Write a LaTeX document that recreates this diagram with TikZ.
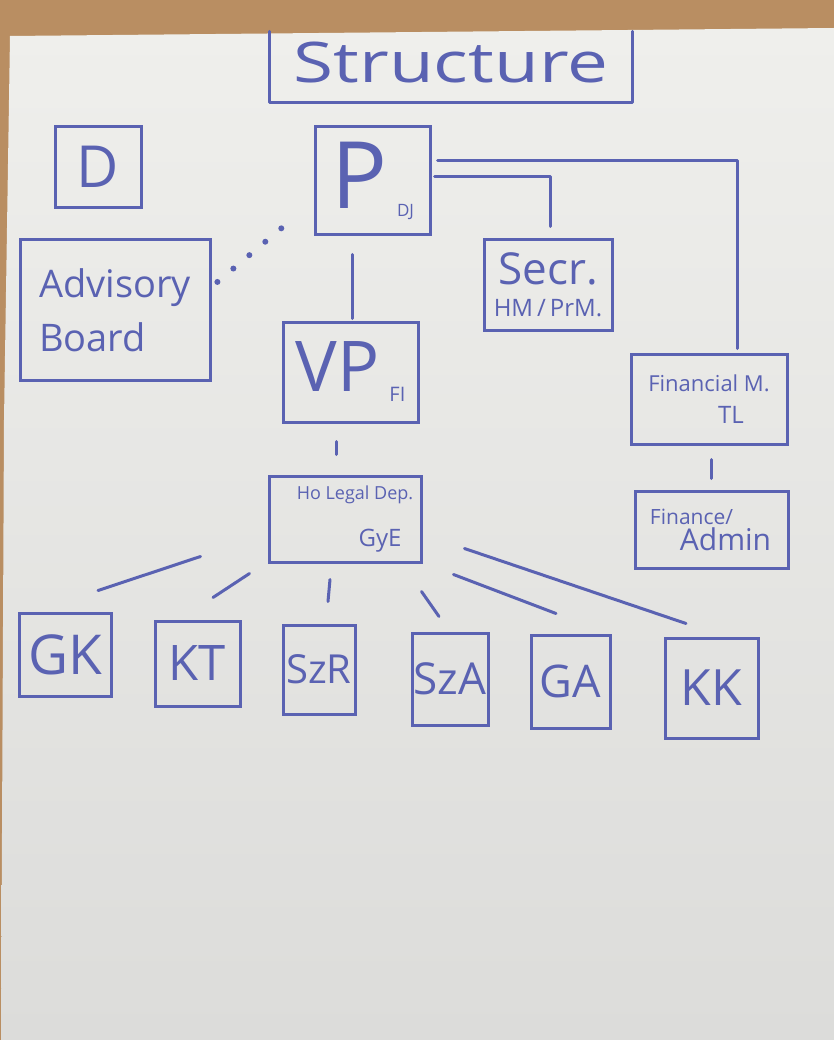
\documentclass[tikz,border=0pt]{standalone}
\usepackage{fontspec}
\setmainfont{Open Sans}
\usepackage{graphicx}
\definecolor{ink}{HTML}{5A62B2}
\definecolor{wood}{HTML}{B98E62}
\definecolor{papertop}{HTML}{EFEFEC}
\definecolor{paperbot}{HTML}{DCDCDA}
\newcommand\fsz[1]{\fontsize{#1}{#1}\selectfont}
\begin{document}
\begin{tikzpicture}[x=1pt,y=-1pt,
  box/.style={draw=ink, line width=3pt, text=ink, inner sep=0pt, align=center},
  conn/.style={draw=ink, line width=3pt, line cap=round, line join=round},
  dotline/.style={draw=ink, line width=6pt, line cap=round, dash pattern=on 0pt off 20.85pt}]
\useasboundingbox (0,0) rectangle (834,1040);
\fill[wood] (0,0) rectangle (834,1040);
\shade[top color=papertop, bottom color=paperbot] (10,36) -- (834,28) -- (834,1040) -- (1,1040) -- (4,420) -- cycle;

% title
\node[text=ink, minimum width=362pt, minimum height=71pt, inner sep=0pt] (T) at (451,67) {\raisebox{9pt}{\fsz{56}\scalebox{1.3}[1]{Structure}}};
\draw[conn] (T.north west) -- (T.south west) -- (T.south east) -- (T.north east);

% boxes
\node[box, minimum width=86pt, minimum height=81pt] (D) at (98,167) {\fsz{58}D};
\node[box, minimum width=115pt, minimum height=108pt] (P) at (372.5,181) {\fsz{93}P\hspace{10pt}\raisebox{-8pt}{\fsz{17}DJ}};
\node[box, align=left, minimum width=190pt, minimum height=140pt] (Adv) at (115,310) {\fsz{38}Advisory\\[15pt]\fsz{38}Board};
\node[box, minimum width=128pt, minimum height=90pt] (Secr) at (548,285) {\fsz{44}Secr.\\[13pt]\fsz{24}HM\,/\,PrM.};
\node[box, minimum width=135pt, minimum height=100pt] (VP) at (350.5,372) {\fsz{70}VP\hspace{10pt}\raisebox{-10pt}{\fsz{20}FI}};
\node[box, minimum width=156pt, minimum height=90pt] (FM) at (709,399) {\fsz{22}Financial M.\\[13pt]\fsz{24}\hspace*{44pt}TL};
\node[box, minimum width=152pt, minimum height=86pt] (HoL) at (345,519) {\fsz{18}\hspace*{20pt}Ho Legal Dep.\\[24pt]\fsz{24}\hspace*{70pt}GyE};
\node[box, minimum width=153pt, minimum height=77pt] (Fin) at (711.5,529.5) {\fsz{21}Finance/\hspace*{40pt}\\[2pt]\fsz{30}\hspace*{28pt}Admin};

\node[box, minimum width=92pt, minimum height=83pt] (GK) at (65,654.5) {\fsz{55}GK};
\node[box, minimum width=85pt, minimum height=85pt] (KT) at (197.5,663.5) {\fsz{49}KT};
\node[box, minimum width=72pt, minimum height=89pt] (SzR) at (319,669.5) {\fsz{40}SzR};
\node[box, minimum width=76pt, minimum height=92pt] (SzA) at (450,679) {\fsz{44}SzA};
\node[box, minimum width=79pt, minimum height=93pt] (GA) at (570.5,681.5) {\fsz{45}GA};
\node[box, minimum width=93pt, minimum height=100pt] (KK) at (711.5,688) {\fsz{50}KK};

% connectors
\draw[dotline, shorten <=7.7pt, shorten >=23.2pt] ([yshift=23.1pt]Adv.east) -- ([yshift=-20.3pt]P.west);
\draw[conn, shorten <=18pt, shorten >=2pt] ([xshift=-20pt]P.south) -- ([xshift=2pt]VP.north);
\draw[conn, shorten <=3pt, shorten >=12pt] ([yshift=4pt]P.east) -| ([xshift=2pt]Secr.north);
\draw[conn, shorten <=6pt, shorten >=4pt] ([yshift=20pt]P.east) -| ([xshift=28pt]FM.north);
\draw[conn, shorten <=14pt, shorten >=11pt] ([xshift=2pt]FM.south) -- ([xshift=-0.5pt]Fin.north);
\draw[conn, shorten <=18pt, shorten >=20pt] ([xshift=-14.5pt]VP.south) -- ([xshift=-9pt]HoL.north);

\draw[conn] ([xshift=-67pt,yshift=7pt]HoL.south west) -- ([xshift=33pt,yshift=21pt]GK.north);
\draw[conn] ([xshift=-18pt,yshift=-10pt]HoL.south west) -- ([xshift=15.5pt,yshift=22pt]KT.north);
\draw[conn] ([xshift=-15pt,yshift=-16pt]HoL.south) -- ([xshift=9pt,yshift=22pt]SzR.north);
\draw[conn] ([xshift=-1pt,yshift=-28pt]HoL.south east) -- ([xshift=-11pt,yshift=15pt]SzA.north);
\draw[conn] ([xshift=31pt,yshift=-11pt]HoL.south east) -- ([xshift=-14.5pt,yshift=20pt]GA.north);
\draw[conn] ([xshift=42pt,yshift=15pt]HoL.south east) -- ([xshift=-25.5pt,yshift=13pt]KK.north);
\end{tikzpicture}
\end{document}
